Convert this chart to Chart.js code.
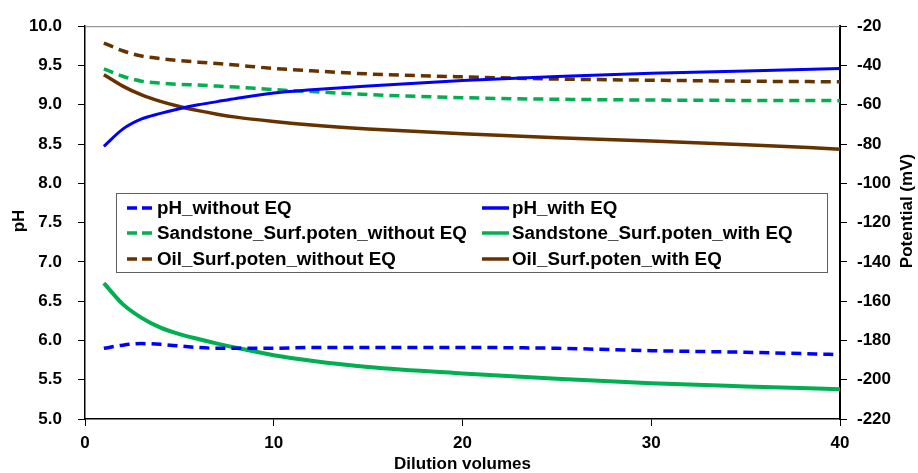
<!DOCTYPE html>
<html>
<head>
<meta charset="utf-8">
<script src="https://cdn.jsdelivr.net/npm/chart.js@4.4.1/dist/chart.umd.min.js"></script>
<style>
  html, body { margin: 0; padding: 0; background: #fff; }
  #wrap { width: 918px; height: 473px; position: relative; }
</style>
</head>
<body>
<div id="wrap"><canvas id="chart" width="918" height="473"></canvas></div>
<script>
// dilution volumes (x)
const dilution = [1, 2, 3, 4, 5, 6, 7, 8, 10, 12, 15, 20, 25, 30, 35, 40];

// pH, left axis
const phWithoutEQ = [5.90, 5.94, 5.96, 5.95, 5.93, 5.91, 5.90, 5.90, 5.90, 5.91, 5.91, 5.91, 5.90, 5.87, 5.85, 5.82];
const phWithEQ = [8.47, 8.69, 8.82, 8.89, 8.95, 9.00, 9.04, 9.08, 9.15, 9.19, 9.24, 9.31, 9.36, 9.40, 9.43, 9.46];

// surface potentials (mV), right axis
const sandWithoutEQ = [-41.7, -45.5, -48.0, -49.0, -49.6, -50.0, -50.5, -51.0, -52.3, -53.3, -54.8, -56.4, -57.2, -57.6, -57.8, -57.9];
const sandWithEQ = [-150.8, -161.5, -168.5, -173.5, -176.8, -179.3, -181.6, -183.7, -187.5, -190.3, -193.5, -196.8, -199.5, -201.8, -203.4, -204.8];
const oilWithoutEQ = [-28.6, -32.5, -35.2, -36.5, -37.5, -38.3, -39.0, -39.8, -41.5, -42.7, -44.3, -45.8, -46.9, -47.5, -48.0, -48.3];
const oilWithEQ = [-44.7, -50.5, -55.0, -58.3, -60.9, -63.0, -64.8, -66.3, -68.5, -70.3, -72.3, -74.8, -76.8, -78.4, -80.3, -82.6];

const BLUE = "#0000ff";
const GREEN = "#00b050";
const BROWN = "#663300";
const FONT = "'Liberation Sans', Arial, sans-serif";

function pts(ys) {
  return ys.map((y, i) => ({ x: dilution[i], y: y }));
}

function series(label, ys, color, dashed, axis, width) {
  return {
    label: label,
    data: pts(ys),
    borderColor: color,
    backgroundColor: color,
    borderWidth: width,
    borderDash: dashed ? [10, 6] : [],
    pointRadius: 0,
    cubicInterpolationMode: "monotone",
    fill: false,
    yAxisID: axis,
  };
}

const datasets = [
  series("pH_without EQ", phWithoutEQ, BLUE, true, "yPH", 3.5),
  series("pH_with EQ", phWithEQ, BLUE, false, "yPH", 3),
  series("Sandstone_Surf.poten_without EQ", sandWithoutEQ, GREEN, true, "yMV", 3.5),
  series("Sandstone_Surf.poten_with EQ", sandWithEQ, GREEN, false, "yMV", 4),
  series("Oil_Surf.poten_without EQ", oilWithoutEQ, BROWN, true, "yMV", 3.5),
  series("Oil_Surf.poten_with EQ", oilWithEQ, BROWN, false, "yMV", 3.5),
];

// axis titles, plot frame and the boxed legend
const decorations = {
  id: "decorations",
  beforeDatasetsDraw(chart) {
    const { ctx, chartArea: a } = chart;
    ctx.save();
    ctx.strokeStyle = "#808080";
    ctx.lineWidth = 1;
    ctx.beginPath();
    ctx.moveTo(a.left, a.top + 0.5);
    ctx.lineTo(a.right, a.top + 0.5);
    ctx.stroke();
    ctx.restore();
  },
  afterDraw(chart) {
    const { ctx, chartArea: a } = chart;
    ctx.save();
    ctx.fillStyle = "#000";
    ctx.font = "bold 17px " + FONT;
    ctx.textAlign = "center";
    ctx.textBaseline = "middle";
    ctx.fillText("Dilution volumes", (a.left + a.right) / 2, 464);

    ctx.save();
    ctx.translate(19, 221);
    ctx.rotate(-Math.PI / 2);
    ctx.fillText("pH", 0, 0);
    ctx.restore();

    ctx.save();
    ctx.translate(907, 211);
    ctx.rotate(-Math.PI / 2);
    ctx.fillText("Potential (mV)", 0, 0);
    ctx.restore();

    // legend
    const box = { x: 116, y: 193, w: 711, h: 79 };
    ctx.fillStyle = "#fff";
    ctx.fillRect(box.x, box.y, box.w, box.h);
    ctx.strokeStyle = "#606060";
    ctx.lineWidth = 1;
    ctx.strokeRect(box.x + 0.5, box.y + 0.5, box.w, box.h);

    const rowY = [208, 233, 259];
    const colX = [127, 482];
    ctx.font = "bold 18.8px " + FONT;
    ctx.textAlign = "left";
    chart.data.datasets.forEach((ds, i) => {
      const col = i % 2;
      const row = Math.floor(i / 2);
      const x = colX[col];
      const y = rowY[row];
      ctx.strokeStyle = ds.borderColor;
      ctx.lineWidth = 3.5;
      ctx.setLineDash(ds.borderDash.length ? [10, 5] : []);
      ctx.beginPath();
      ctx.moveTo(x, y);
      ctx.lineTo(x + 27, y);
      ctx.stroke();
      ctx.setLineDash([]);
      ctx.fillStyle = "#000";
      ctx.fillText(ds.label, x + 30, y + 1);
    });
    ctx.restore();
  },
};

const tickFont = { family: FONT, size: 17, weight: "bold" };

new Chart(document.getElementById("chart").getContext("2d"), {
  type: "line",
  data: { datasets: datasets },
  plugins: [decorations],
  options: {
    responsive: false,
    animation: false,
    layout: { padding: { top: 22, left: 0, right: 0, bottom: 0 } },
    plugins: {
      legend: { display: false },
      tooltip: { enabled: false },
    },
    scales: {
      x: {
        type: "linear",
        min: 0,
        max: 40,
        ticks: { stepSize: 10, color: "#000", font: tickFont, padding: 7 },
        grid: { drawOnChartArea: false, tickLength: 7, color: "#000", tickColor: "#000" },
        border: { color: "#000", width: 1.5 },
        afterFit(scale) { scale.height = 54; },
      },
      yPH: {
        position: "left",
        min: 5,
        max: 10,
        ticks: {
          stepSize: 0.5,
          color: "#000",
          font: tickFont,
          padding: 16,
          callback: (v) => Number(v).toFixed(1),
        },
        grid: { drawOnChartArea: false, tickLength: 7, tickColor: "#000" },
        border: { color: "#000", width: 1.5 },
        afterFit(scale) { scale.width = 85; },
      },
      yMV: {
        position: "right",
        min: -220,
        max: -20,
        ticks: { stepSize: 20, color: "#000", font: tickFont, padding: 10 },
        grid: { drawOnChartArea: false, tickLength: 7, tickColor: "#000" },
        border: { color: "#000", width: 2 },
        afterFit(scale) { scale.width = 78; },
      },
    },
  },
});
</script>
</body>
</html>
